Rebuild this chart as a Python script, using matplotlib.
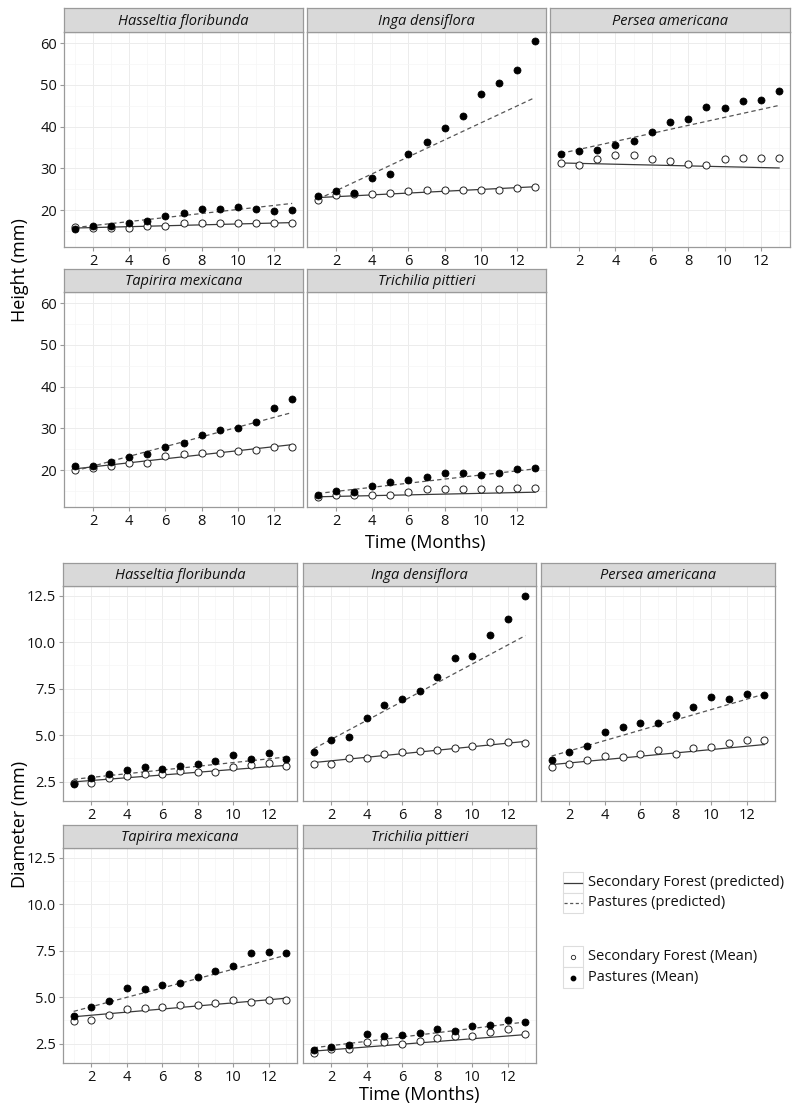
import matplotlib.pyplot as plt
from matplotlib.patches import Rectangle

plt.rcParams['font.family'] = ['Open Sans', 'DejaVu Sans']

months = list(range(1, 14))
pred_months = [1, 13]
species = ['Hasseltia floribunda', 'Inga densiflora', 'Persea americana',
           'Tapirira mexicana', 'Trichilia pittieri']

# Height (mm): monthly means
height_forest_mean = {
    'Hasseltia floribunda': [16.0, 15.8, 15.8, 15.8, 16.1, 16.3, 16.8, 16.8, 16.8, 16.8, 16.8, 16.8, 17.0],
    'Inga densiflora': [22.4, 23.5, 23.8, 23.9, 24.1, 24.6, 24.7, 24.9, 24.9, 24.9, 24.9, 25.3, 25.6],
    'Persea americana': [31.4, 30.9, 32.2, 33.2, 33.1, 32.2, 31.7, 31.0, 30.9, 32.2, 32.4, 32.6, 32.4],
    'Tapirira mexicana': [20.1, 20.5, 21.0, 21.8, 21.7, 23.3, 23.8, 24.2, 24.2, 24.5, 24.7, 25.6, 25.6],
    'Trichilia pittieri': [13.5, 14.0, 14.0, 14.0, 14.0, 14.7, 15.4, 15.4, 15.4, 15.4, 15.4, 15.8, 15.8],
}
height_pasture_mean = {
    'Hasseltia floribunda': [15.4, 16.3, 16.3, 16.9, 17.4, 18.7, 19.2, 20.2, 20.2, 20.7, 20.2, 19.7, 20.0],
    'Inga densiflora': [23.4, 24.6, 24.1, 27.7, 28.6, 33.4, 36.3, 39.8, 42.6, 47.9, 50.5, 53.6, 60.5],
    'Persea americana': [33.4, 34.1, 34.3, 35.7, 36.5, 38.7, 41.1, 41.9, 44.6, 44.4, 46.2, 46.5, 48.6],
    'Tapirira mexicana': [21.0, 21.1, 21.9, 23.2, 23.9, 25.6, 26.5, 28.4, 29.7, 30.0, 31.5, 34.8, 37.0],
    'Trichilia pittieri': [14.0, 15.0, 14.7, 16.2, 17.1, 17.7, 18.3, 19.3, 19.3, 18.8, 19.3, 20.3, 20.6],
}
# Height (mm): predicted at month 1 and month 13
height_forest_pred = {
    'Hasseltia floribunda': [15.7, 17.0],
    'Inga densiflora': [23.0, 25.6],
    'Persea americana': [31.3, 30.1],
    'Tapirira mexicana': [20.3, 26.1],
    'Trichilia pittieri': [13.6, 14.7],
}
height_pasture_pred = {
    'Hasseltia floribunda': [15.8, 21.6],
    'Inga densiflora': [22.6, 47.0],
    'Persea americana': [33.6, 45.1],
    'Tapirira mexicana': [19.8, 33.8],
    'Trichilia pittieri': [14.4, 20.3],
}

# Diameter (mm): monthly means
diam_forest_mean = {
    'Hasseltia floribunda': [2.43, 2.43, 2.70, 2.77, 2.93, 2.93, 3.07, 3.00, 3.00, 3.26, 3.39, 3.48, 3.34],
    'Inga densiflora': [3.46, 3.46, 3.78, 3.78, 3.98, 4.09, 4.14, 4.19, 4.32, 4.43, 4.62, 4.62, 4.59],
    'Persea americana': [3.29, 3.45, 3.66, 3.89, 3.82, 4.00, 4.17, 4.00, 4.28, 4.37, 4.59, 4.76, 4.76],
    'Tapirira mexicana': [3.71, 3.78, 4.02, 4.37, 4.41, 4.44, 4.55, 4.59, 4.68, 4.84, 4.71, 4.85, 4.84],
    'Trichilia pittieri': [1.98, 2.18, 2.18, 2.59, 2.59, 2.48, 2.62, 2.80, 2.89, 2.89, 3.14, 3.30, 3.03],
}
diam_pasture_mean = {
    'Hasseltia floribunda': [2.36, 2.70, 2.91, 3.14, 3.26, 3.20, 3.34, 3.46, 3.59, 3.91, 3.69, 4.03, 3.69],
    'Inga densiflora': [4.09, 4.71, 4.92, 5.91, 6.63, 6.92, 7.37, 8.15, 9.17, 9.27, 10.40, 11.23, 12.50],
    'Persea americana': [3.64, 4.09, 4.43, 5.16, 5.46, 5.66, 5.66, 6.10, 6.53, 7.06, 6.96, 7.24, 7.17],
    'Tapirira mexicana': [3.96, 4.49, 4.80, 5.48, 5.46, 5.66, 5.75, 6.07, 6.42, 6.67, 7.40, 7.44, 7.40],
    'Trichilia pittieri': [2.14, 2.32, 2.43, 3.03, 2.91, 2.98, 3.07, 3.30, 3.20, 3.43, 3.48, 3.78, 3.64],
}
diam_forest_pred = {
    'Hasseltia floribunda': [2.48, 3.37],
    'Inga densiflora': [3.52, 4.66],
    'Persea americana': [3.41, 4.49],
    'Tapirira mexicana': [3.94, 4.94],
    'Trichilia pittieri': [2.09, 2.98],
}
diam_pasture_pred = {
    'Hasseltia floribunda': [2.62, 3.82],
    'Inga densiflora': [4.26, 10.36],
    'Persea americana': [3.87, 7.21],
    'Tapirira mexicana': [4.23, 7.26],
    'Trichilia pittieri': [2.27, 3.66],
}

W, H = 805, 1109
fig = plt.figure(figsize=(W / 100, H / 100), dpi=100)

BORDER = '#9a9a9a'
STRIP = '#d9d9d9'


def px_axes(x0, y0, x1, y1):
    return fig.add_axes([x0 / W, 1 - y1 / H, (x1 - x0) / W, (y1 - y0) / H])


def draw_panel(box, strip_top, name, f_mean, p_mean, f_pred, p_pred,
               ylim, yticks, yminor, ylabels):
    x0, y0, x1, y1 = box
    ax = px_axes(x0, y0, x1, y1)
    ax.set_xlim(0.4, 13.6)
    ax.set_ylim(*ylim)
    ax.set_xticks([2, 4, 6, 8, 10, 12])
    ax.set_xticks([1, 3, 5, 7, 9, 11, 13], minor=True)
    ax.set_yticks(yticks)
    ax.set_yticks(yminor, minor=True)
    ax.grid(which='major', color='#ececec', lw=0.7)
    ax.grid(which='minor', color='#f6f6f6', lw=0.5)
    ax.set_axisbelow(True)
    for s in ax.spines.values():
        s.set_color(BORDER)
        s.set_linewidth(0.9)
    ax.tick_params(which='major', length=3, color=BORDER, labelsize=10.5,
                   pad=2, labelcolor='#111111')
    ax.tick_params(which='minor', length=0)
    if not ylabels:
        ax.tick_params(axis='y', which='major', length=0, labelleft=False)
    ax.plot(pred_months, f_pred, color='#3a3a3a', lw=0.9, zorder=2)
    ax.plot(pred_months, p_pred, color='#555555', lw=0.9,
            linestyle=(0, (3.5, 2.5)), zorder=2)
    ax.scatter(months, f_mean, s=26, facecolor='white', edgecolor='#222222',
               linewidth=0.7, zorder=3)
    ax.scatter(months, p_mean, s=26, facecolor='black', edgecolor='black',
               linewidth=0.5, zorder=4)

    st = px_axes(x0, strip_top, x1, y0)
    st.set_facecolor(STRIP)
    st.set_xticks([])
    st.set_yticks([])
    for s in st.spines.values():
        s.set_color(BORDER)
        s.set_linewidth(0.9)
    st.text(0.5, 0.45, name, ha='center', va='center', style='italic',
            fontsize=10.5, color='#111111', transform=st.transAxes)
    return ax


# Height panels
top_cols = [(64, 303), (307, 546), (550, 790)]
top_rows = [(8, 32, 247), (269, 292, 507)]
for i, sp in enumerate(species):
    r, c = divmod(i, 3)
    st_top, y0, y1 = top_rows[r]
    xa, xb = top_cols[c]
    draw_panel((xa, y0, xb, y1), st_top, sp,
               height_forest_mean[sp], height_pasture_mean[sp],
               height_forest_pred[sp], height_pasture_pred[sp],
               (11.15, 62.7), [20, 30, 40, 50, 60], [15, 25, 35, 45, 55],
               c == 0)

# Diameter panels
bot_cols = [(63, 297), (303, 536), (541, 775)]
bot_rows = [(563, 586, 801), (825, 848, 1063)]
for i, sp in enumerate(species):
    r, c = divmod(i, 3)
    st_top, y0, y1 = bot_rows[r]
    xa, xb = bot_cols[c]
    draw_panel((xa, y0, xb, y1), st_top, sp,
               diam_forest_mean[sp], diam_pasture_mean[sp],
               diam_forest_pred[sp], diam_pasture_pred[sp],
               (1.45, 13.03), [2.5, 5.0, 7.5, 10.0, 12.5],
               [3.75, 6.25, 8.75, 11.25], c == 0)

fig.text(20 / W, 1 - 270 / H, 'Height (mm)', rotation=90, ha='center',
         va='center', fontsize=13)
fig.text(425 / W, 1 - 543 / H, 'Time (Months)', ha='center', va='center',
         fontsize=13)
fig.text(20 / W, 1 - 824 / H, 'Diameter (mm)', rotation=90, ha='center',
         va='center', fontsize=13)
fig.text(419 / W, 1 - 1095 / H, 'Time (Months)', ha='center', va='center',
         fontsize=13)

# Legend
lg = px_axes(555, 865, 800, 995)
lg.set_xlim(555, 800)
lg.set_ylim(995, 865)
lg.axis('off')
key_boxes = [(872, 893), (893, 913), (946, 967), (967, 988)]
for ya, yb in key_boxes:
    lg.add_patch(Rectangle((563, ya), 20, yb - ya, facecolor='white',
                           edgecolor='#dddddd', lw=0.8))
lg.plot([564, 582], [882.5, 882.5], color='#3a3a3a', lw=0.9)
lg.plot([564, 582], [903, 903], color='#555555', lw=0.9,
        linestyle=(0, (2.5, 2)))
lg.scatter([573], [956.5], s=10, facecolor='white', edgecolor='#222222',
           linewidth=0.6)
lg.scatter([573], [977.5], s=10, facecolor='black', edgecolor='black')
legend_labels = ['Secondary Forest (predicted)', 'Pastures (predicted)',
                 'Secondary Forest (Mean)', 'Pastures (Mean)']
for (ya, yb), lab in zip(key_boxes, legend_labels):
    lg.text(588, (ya + yb) / 2, lab, ha='left', va='center', fontsize=10.5,
            color='#111111')

fig.savefig('out.png', dpi=100)
